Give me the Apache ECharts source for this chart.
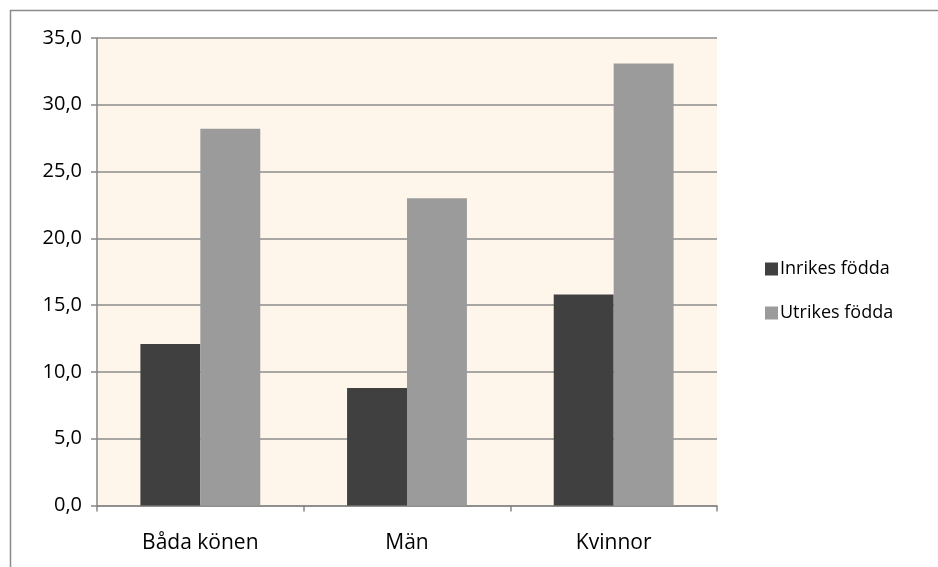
<!DOCTYPE html>
<html><head><meta charset="utf-8">
<script src="https://cdn.jsdelivr.net/npm/echarts@6/dist/echarts.min.js"></script>
<style>html,body{margin:0;padding:0;background:#fff}#c{width:938px;height:567px}</style>
</head><body><div id="c"></div>
<script>
const categories = ['Båda könen', 'Män', 'Kvinnor'];
const inrikes = [12.1, 8.8, 15.8];
const utrikes = [28.2, 23.0, 33.1];
const seriesNames = ['Inrikes födda', 'Utrikes födda'];

const chart = echarts.init(document.getElementById('c'));
const font = '"Open Sans", "Noto Sans", sans-serif';
chart.setOption({
  animation: false,
  graphic: [{
    type: 'rect', shape: {x: 10.5, y: 10.5, width: 940, height: 600},
    style: {fill: 'none', stroke: '#8a8a8a', lineWidth: 1.5}, silent: true
  }],
  grid: {left: 97, top: 38, right: 221, bottom: 61.5, show: true, backgroundColor: '#FEF6EA', borderWidth: 0},
  legend: {
    orient: 'vertical', left: 760, top: 255, itemGap: 26,
    itemWidth: 13, itemHeight: 13, icon: 'rect',
    textStyle: {fontFamily: font, fontSize: 18, color: '#000', padding: [0, 0, 0, -3]},
    data: seriesNames
  },
  xAxis: {
    type: 'category', data: categories,
    axisLine: {lineStyle: {color: '#868686', width: 1.5}},
    axisTick: {show: true, length: 6, lineStyle: {color: '#868686', width: 1.5}},
    axisLabel: {fontFamily: font, fontSize: 21, color: '#000', margin: 27}
  },
  yAxis: {
    type: 'value', min: 0, max: 35, interval: 5,
    axisLine: {show: true, lineStyle: {color: '#868686', width: 1.5}},
    axisTick: {show: true, length: 6, lineStyle: {color: '#868686', width: 1.5}},
    splitLine: {lineStyle: {color: '#8c8c8c', width: 1.5}},
    axisLabel: {fontFamily: font, fontSize: 20, color: '#000', margin: 15,
      formatter: v => v.toFixed(1).replace('.', ',')}
  },
  series: [
    {name: seriesNames[0], type: 'bar', data: inrikes, barGap: '0%', barCategoryGap: '42%',
     itemStyle: {color: '#404040'}},
    {name: seriesNames[1], type: 'bar', data: utrikes, barGap: '0%', barCategoryGap: '42%',
     itemStyle: {color: '#9b9b9b'}}
  ]
});
</script></body></html>
